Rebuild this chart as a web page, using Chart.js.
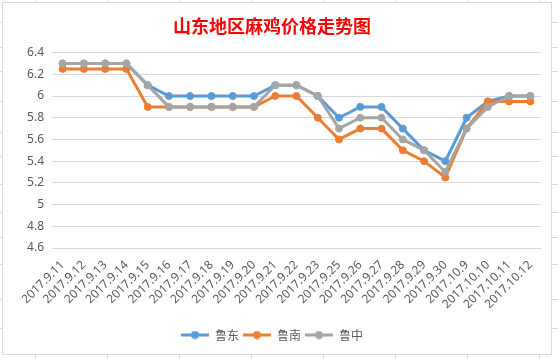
<!DOCTYPE html>
<html>
<head>
<meta charset="utf-8">
<script src="https://cdn.jsdelivr.net/npm/chart.js@4.4.0/dist/chart.umd.min.js"></script>
<style>
  html, body { margin: 0; padding: 0; background: #fff; }
  body { width: 558px; height: 359px; position: relative; overflow: hidden; }
  .vl { position: absolute; top: 0; width: 1px; height: 359px; background: #dadada; }
  .hl { position: absolute; left: 0; height: 1px; width: 558px; background: #dadada; }
  #box { position: absolute; left: 2px; top: 2px; width: 548px; height: 351px; border: 1px solid #d9d9d9; background: #fff; }
  #c { display: block; }
</style>
</head>
<body>
<div id="box"><canvas id="c" width="548" height="351"></canvas></div>
<script>
// ---- data ----
const categories = ["2017.9.11","2017.9.12","2017.9.13","2017.9.14","2017.9.15","2017.9.16","2017.9.17","2017.9.18","2017.9.19","2017.9.20","2017.9.21","2017.9.22","2017.9.23","2017.9.25","2017.9.26","2017.9.27","2017.9.28","2017.9.29","2017.9.30","2017.10.9","2017.10.10","2017.10.11","2017.10.12"];
const seriesNames = ["鲁东", "鲁南", "鲁中"];
const luDong  = [6.3,6.3,6.3,6.3,6.1,6.0,6.0,6.0,6.0,6.0,6.1,6.1,6.0,5.8,5.9,5.9,5.7,5.5,5.4,5.8,5.95,6.0,6.0];
const luNan   = [6.25,6.25,6.25,6.25,5.9,5.9,5.9,5.9,5.9,5.9,6.0,6.0,5.8,5.6,5.7,5.7,5.5,5.4,5.25,5.7,5.95,5.95,5.95];
const luZhong = [6.3,6.3,6.3,6.3,6.1,5.9,5.9,5.9,5.9,5.9,6.1,6.1,6.0,5.7,5.8,5.8,5.6,5.5,5.3,5.7,5.9,6.0,6.0];
const yTicks = [4.6,4.8,5,5.2,5.4,5.6,5.8,6,6.2,6.4];
const titleText = "山东地区麻鸡价格走势图";

// ---- spreadsheet background grid (decoration) ----
const sheetCols = [35,107,179,251,323,395,467,539];
const sheetRows = [22,47,71,101,132,156,184,212,237,264,299,328];
sheetCols.forEach(x => { const d = document.createElement('div'); d.className = 'vl'; d.style.left = x + 'px'; document.body.insertBefore(d, document.body.firstChild); });
sheetRows.forEach(y => { const d = document.createElement('div'); d.className = 'hl'; d.style.top = y + 'px'; document.body.insertBefore(d, document.body.firstChild); });

const colors = ["#5B9BD5", "#ED7D31", "#A5A5A5"];
const values = [luDong, luNan, luZhong];
const drawOrder = [3, 2, 1];

function legendIcon(color) {
  const cv = document.createElement('canvas');
  cv.width = 28; cv.height = 9;
  const g = cv.getContext('2d');
  g.strokeStyle = color; g.lineWidth = 3;
  g.beginPath(); g.moveTo(0, 4.5); g.lineTo(28, 4.5); g.stroke();
  g.fillStyle = color;
  g.beginPath(); g.arc(14, 4.5, 4, 0, Math.PI * 2); g.fill();
  return cv;
}
const icons = colors.map(legendIcon);

const font = "'Noto Sans', 'Noto Sans CJK SC', sans-serif";

new Chart(document.getElementById('c'), {
  type: 'line',
  data: {
    labels: categories,
    datasets: seriesNames.map((n, i) => ({
      label: n,
      data: values[i],
      order: drawOrder[i],
      borderColor: colors[i],
      backgroundColor: colors[i],
      borderWidth: 3,
      pointRadius: 3.5,
      pointBorderWidth: 1,
      pointHoverRadius: 3.5,
      tension: 0,
      fill: false
    }))
  },
  options: {
    responsive: false,
    animation: false,
    layout: { padding: { left: 0, right: 10, top: 0, bottom: 3 } },
    plugins: {
      title: {
        display: true,
        text: titleText,
        color: '#FF0000',
        font: { family: "'Noto Sans CJK SC', sans-serif", size: 18, weight: 'bold', lineHeight: 1.2 },
        padding: { top: 12, bottom: 16 }
      },
      legend: {
        position: 'bottom',
        labels: {
          usePointStyle: true,
          pointStyleWidth: 28,
          boxHeight: 12,
          padding: 4,
          color: '#595959',
          font: { family: "'Noto Sans CJK SC', sans-serif", size: 12 },
          generateLabels: (chart) => chart.data.datasets.map((ds, i) => ({
            text: ds.label,
            fillStyle: colors[i],
            strokeStyle: colors[i],
            fontColor: '#595959',
            lineWidth: 0,
            pointStyle: icons[i],
            hidden: false,
            datasetIndex: i
          }))
        }
      },
      tooltip: { enabled: false }
    },
    scales: {
      x: {
        offset: true,
        grid: { display: false, drawTicks: false, offset: true },
        border: { display: true, color: '#d9d9d9', width: 1 },
        ticks: {
          autoSkip: false,
          minRotation: 45,
          maxRotation: 45,
          padding: 10,
          color: '#595959',
          font: { family: font, size: 12 }
        },
        afterFit: (s) => { s.height = 77; }
      },
      y: {
        min: 4.6,
        max: 6.4,
        afterBuildTicks: (s) => { s.ticks = yTicks.map(v => ({ value: v })); },
        grid: { color: '#d9d9d9', drawTicks: false, lineWidth: 1 },
        border: { display: false },
        ticks: {
          padding: 8,
          color: '#595959',
          font: { family: font, size: 12 },
          callback: (v) => String(Math.round(v * 10) / 10)
        },
        afterFit: (s) => { s.width = 49; }
      }
    }
  }
});
</script>
</body>
</html>
